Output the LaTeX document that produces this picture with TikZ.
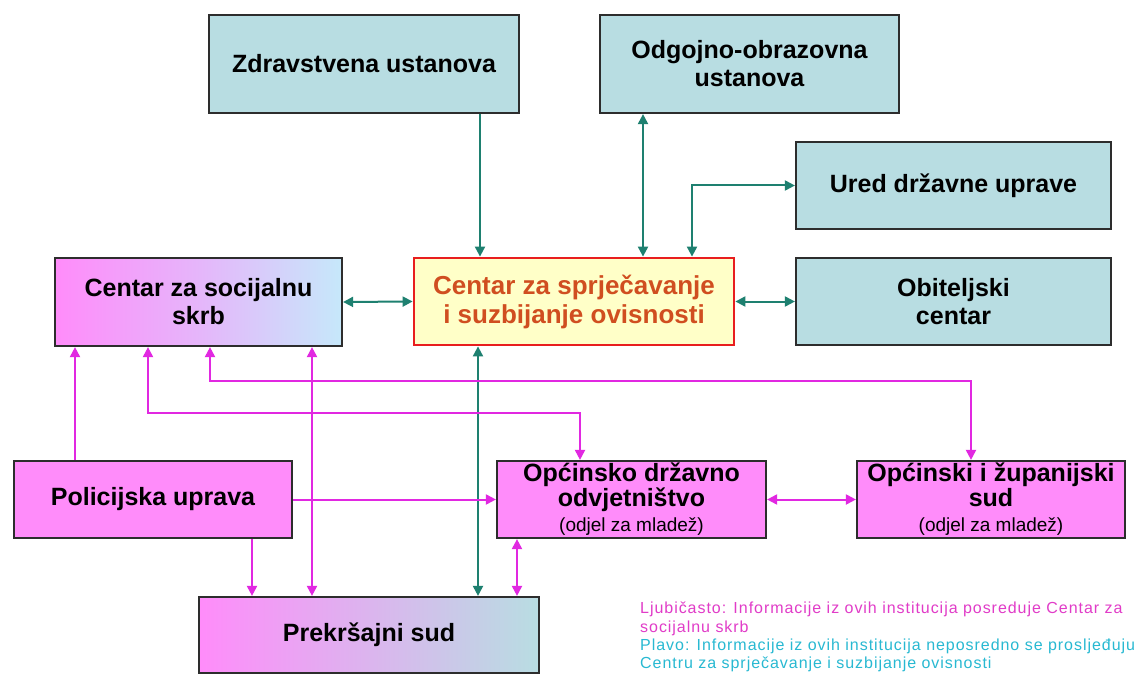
\documentclass[tikz,border=0pt]{standalone}
\usepackage{fontspec}
\setmainfont{Liberation Sans}
\usetikzlibrary{arrows.meta}
\definecolor{boxblue}{RGB}{184,221,226}
\definecolor{boxpink}{RGB}{255,140,250}
\definecolor{lightblue}{RGB}{198,232,250}
\definecolor{tealline}{RGB}{30,128,112}
\definecolor{magline}{RGB}{225,40,225}
\definecolor{maintext}{RGB}{208,78,32}
\definecolor{mainred}{RGB}{232,30,30}
\definecolor{mainfill}{RGB}{255,255,200}
\definecolor{legcyan}{RGB}{40,185,210}
\definecolor{legmag}{RGB}{225,60,200}
\definecolor{edgegray}{RGB}{45,45,45}
\newcommand{\subtxt}[1]{{\fontsize{19}{20}\selectfont\mdseries #1}}
\begin{document}
\begin{tikzpicture}[x=1pt,y=-1pt,
  >={Triangle[length=10pt,width=10pt]},
  box/.style={draw=edgegray,line width=2.2pt,align=center,inner sep=0pt,
    font=\fontsize{25}{28}\selectfont\bfseries,text=black},
  bluebox/.style={box,fill=boxblue},
  pinkbox/.style={box,fill=boxpink},
  tcon/.style={draw=tealline,line width=2pt},
  mcon/.style={draw=magline,line width=2pt},
  legend/.style={anchor=north west,align=left,inner sep=0pt,
    font=\fontsize{16}{18.5}\selectfont\addfontfeature{LetterSpace=6}}
]
\path[fill=white,use as bounding box] (0,0) rectangle (1142,676);

% nodes
\node[bluebox,minimum width=310pt,minimum height=98pt] (zdr) at (364,64) {Zdravstvena ustanova};
\node[bluebox,minimum width=299pt,minimum height=98pt] (odg) at (749.5,64) {Odgojno-obrazovna\\ustanova};
\node[bluebox,minimum width=315pt,minimum height=87pt] (ured) at (953.5,185.5) {Ured državne uprave};
\node[bluebox,minimum width=315pt,minimum height=87pt] (obit) at (953.5,301.5) {Obiteljski\\centar};
\node[box,draw=mainred,line width=2.8pt,fill=mainfill,text=maintext,
      font=\fontsize{26}{29}\selectfont\bfseries,
      minimum width=320pt,minimum height=87pt] (main) at (574,301.5) {Centar za sprječavanje\\i suzbijanje ovisnosti};
\node[box,left color=boxpink,right color=lightblue,middle color=lightblue!45!boxpink,
      minimum width=287pt,minimum height=88pt] (soc) at (198.5,302) {Centar za socijalnu\\skrb};
\node[pinkbox,minimum width=278pt,minimum height=77pt] (pol) at (153,499.5) {Policijska uprava};
\node[pinkbox,font=\fontsize{25}{25}\selectfont\bfseries,minimum width=269pt,minimum height=77pt] (opd) at (631.5,499.5) {Općinsko državno\\odvjetništvo\\\subtxt{(odjel za mladež)}};
\node[pinkbox,font=\fontsize{25}{25}\selectfont\bfseries,minimum width=268pt,minimum height=77pt] (ops) at (991,499.5) {Općinski i županijski\\sud\\\subtxt{(odjel za mladež)}};
\node[box,left color=boxpink,right color=boxblue,middle color=boxblue!50!boxpink,
      minimum width=340pt,minimum height=76pt] (prek) at (369,635) {Prekršajni sud};

\node[legend,text=legmag] (leg1) at (640,602) {Ljubičasto: Informacije iz ovih institucija posreduje Centar za\\socijalnu skrb};
\node[legend,text=legcyan] (leg2) at (640,638.5) {Plavo: Informacije iz ovih institucija neposredno se prosljeđuju\\Centru za sprječavanje i suzbijanje ovisnosti};

% helper x positions
\coordinate (x480) at (480,0);
\coordinate (x643) at (643,0);
\coordinate (x692) at (692,0);
\coordinate (x478) at (478,0);
\coordinate (x75) at (75,0);
\coordinate (x148) at (148,0);
\coordinate (x210) at (210,0);
\coordinate (x312) at (312,0);
\coordinate (x252) at (252,0);
\coordinate (x517) at (517,0);
\coordinate (x580) at (580,0);
\coordinate (x971) at (971,0);
\coordinate (yA) at (0,381);
\coordinate (yB) at (0,413);

% teal connectors
\draw[tcon,->] (x480 |- zdr.south) -- (x480 |- main.north);
\draw[tcon,<->] (x643 |- odg.south) -- (x643 |- main.north);
\draw[tcon,<->] (x692 |- main.north) |- (ured.west);
\draw[tcon,<->] (soc.east) -- (main.west);
\draw[tcon,<->] (main.east) -- (obit.west);
\draw[tcon,<->] (x478 |- main.south) -- (x478 |- prek.north);

% magenta connectors
\draw[mcon,->] (x75 |- pol.north) -- (x75 |- soc.south);
\draw[mcon,<->] (x148 |- soc.south) -- (x148 |- yB) -| (x580 |- opd.north);
\draw[mcon,<->] (x210 |- soc.south) -- (x210 |- yA) -| (x971 |- ops.north);
\draw[mcon,<->] (x312 |- soc.south) -- (x312 |- prek.north);
\draw[mcon,->] (x252 |- pol.south) -- (x252 |- prek.north);
\draw[mcon,->] (pol.east) -- (pol.east -| opd.west);
\draw[mcon,<->] (x517 |- opd.south) -- (x517 |- prek.north);
\draw[mcon,<->] (opd.east) -- (ops.west);
\end{tikzpicture}
\end{document}
